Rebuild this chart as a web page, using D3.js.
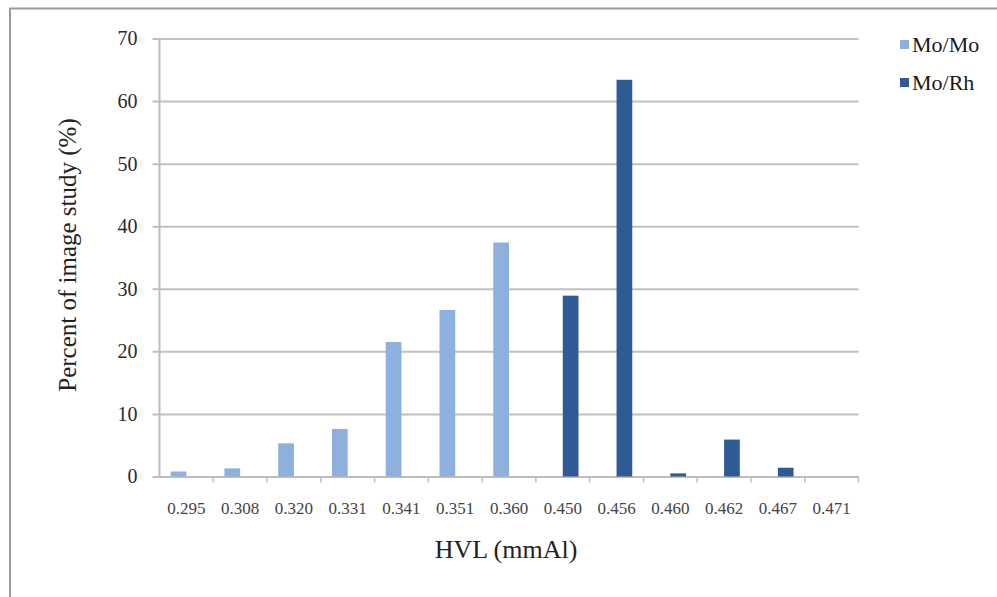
<!DOCTYPE html>
<html>
<head>
<meta charset="utf-8">
<script src="https://cdn.jsdelivr.net/npm/d3@7"></script>
<style>
  html, body { margin: 0; padding: 0; background: #fff; }
  svg { display: block; }
  text { font-family: "Liberation Serif", "DejaVu Serif", serif; }
</style>
</head>
<body>
<svg id="chart" width="997" height="597"></svg>
<script>
// HVL categories (mmAl)
const categories = ["0.295", "0.308", "0.320", "0.331", "0.341", "0.351", "0.360",
                    "0.450", "0.456", "0.460", "0.462", "0.467", "0.471"];
const seriesNames = ["Mo/Mo", "Mo/Rh"];
// Percent of image study per HVL value
const moMo = [0.8, 1.3, 5.3, 7.6, 21.5, 26.6, 37.4, 0, 0, 0, 0, 0, 0];
const moRh = [0, 0, 0, 0, 0, 0, 0, 28.9, 63.4, 0.5, 5.9, 1.4, 0];
const yTicks = [0, 10, 20, 30, 40, 50, 60, 70];
const colors = ["#8db0dd", "#2f5b94"];

const svg = d3.select("#chart");
const plotL = 159.5, plotR = 858.5, plotT = 38.5, plotB = 476.5;

// outer frame (top and left edges)
svg.append("path")
  .attr("d", "M10,597 V8.5 H997")
  .attr("fill", "none").attr("stroke", "#9a9a9a").attr("stroke-width", 2);

const x = d3.scaleBand().domain(categories).range([plotL, plotR]).padding(0);
const xs = d3.scaleBand().domain(seriesNames).range([0, x.bandwidth()])
  .paddingInner(0).paddingOuter(0.71);
const y = d3.scaleLinear().domain([0, 70]).range([plotB, plotT]);

// horizontal gridlines with small ticks left of the axis
const yAxis = d3.axisLeft(y).tickValues(yTicks).tickSize(-(plotR - plotL))
  .tickFormat(d3.format("d")).tickPadding(15);
const gy = svg.append("g").attr("transform", `translate(${plotL},0)`).call(yAxis);
gy.select(".domain").remove();
gy.selectAll(".tick line").attr("stroke", "#c0c0c0").attr("stroke-width", 2)
  .attr("x1", -7);
gy.selectAll(".tick text").attr("fill", "#2a2a2a").style("font-size", "20px")
  .attr("x", -22);

// vertical axis line
svg.append("line").attr("x1", plotL).attr("x2", plotL).attr("y1", plotT).attr("y2", plotB)
  .attr("stroke", "#bdbdbd").attr("stroke-width", 2);

// category axis
const gx = svg.append("g").attr("transform", `translate(0,${plotB})`)
  .call(d3.axisBottom(x).tickSize(0).tickPadding(25));
gx.select(".domain").attr("stroke", "#bdbdbd").attr("stroke-width", 2);
gx.selectAll(".tick text").attr("fill", "#444").style("font-size", "17px");
// boundary tick marks between categories
svg.append("g").selectAll("line")
  .data(categories)
  .join("line")
  .attr("x1", d => x(d) + x.bandwidth())
  .attr("x2", d => x(d) + x.bandwidth())
  .attr("y1", plotB).attr("y2", plotB + 6)
  .attr("stroke", "#bdbdbd").attr("stroke-width", 1.5);

// bars
const rows = categories.map((c, i) => ({ c, vals: [moMo[i], moRh[i]] }));
svg.append("g").selectAll("g")
  .data(rows).join("g")
  .attr("transform", d => `translate(${x(d.c)},0)`)
  .selectAll("rect")
  .data(d => d.vals.map((v, k) => ({ k, v })))
  .join("rect")
  .attr("x", d => xs(seriesNames[d.k]))
  .attr("width", xs.bandwidth())
  .attr("y", d => y(d.v))
  .attr("height", d => y(0) - y(d.v))
  .attr("fill", d => colors[d.k]);

// axis titles
svg.append("text").attr("x", 506).attr("y", 558).attr("text-anchor", "middle")
  .style("font-size", "26px").attr("fill", "#222").text("HVL (mmAl)");
svg.append("text").attr("transform", "translate(76,255) rotate(-90)")
  .attr("text-anchor", "middle").style("font-size", "25px").attr("fill", "#222")
  .text("Percent of image study (%)");

// legend
const lg = svg.append("g").selectAll("g").data(seriesNames).join("g")
  .attr("transform", (d, i) => `translate(900,${45 + i * 38})`);
lg.append("rect").attr("x", 0).attr("y", -5).attr("width", 9).attr("height", 9)
  .attr("fill", (d, i) => colors[i]);
lg.append("text").attr("x", 12).attr("y", 7).style("font-size", "22px")
  .attr("fill", "#1a1a1a").text(d => d);
</script>
</body>
</html>
